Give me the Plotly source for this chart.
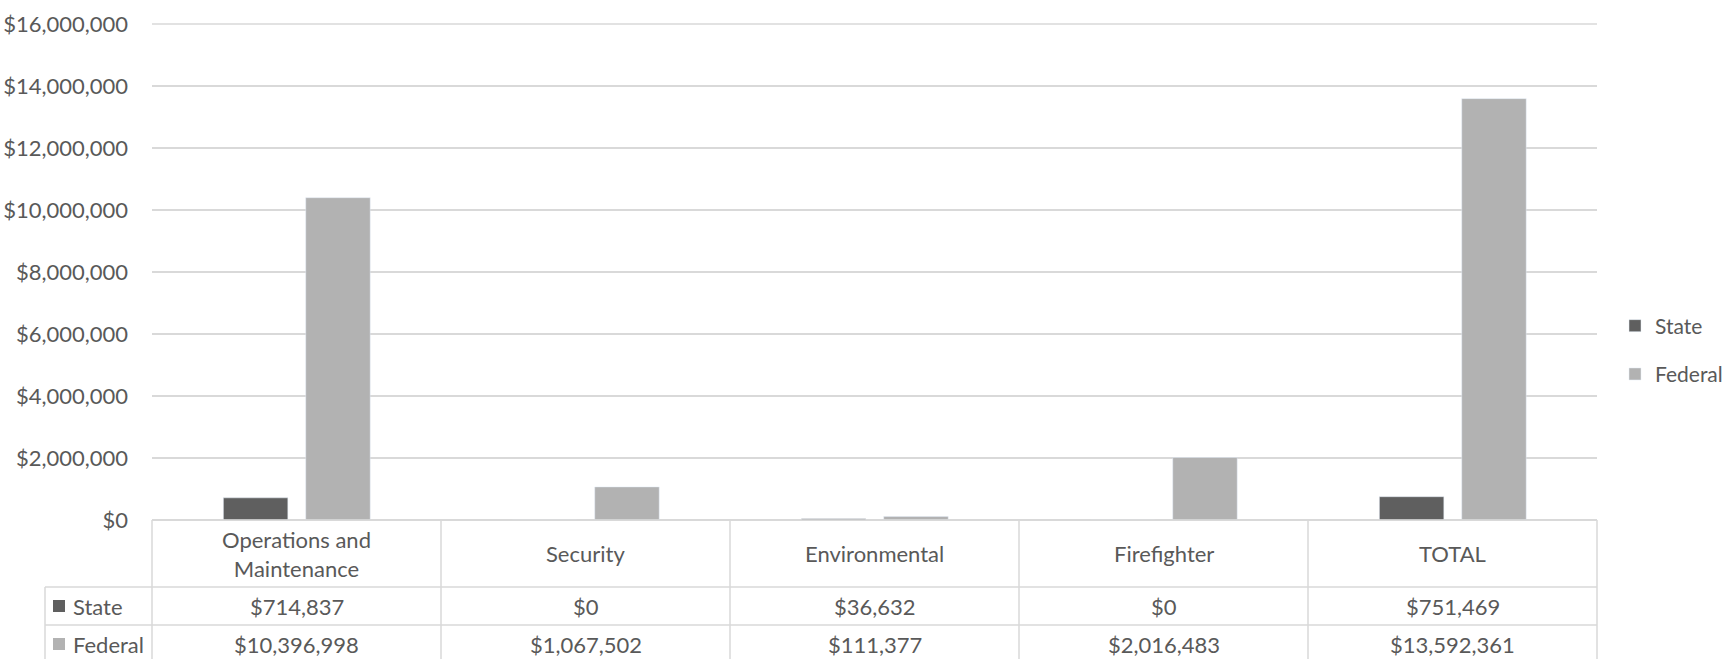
import plotly.graph_objects as go

# dados
categorias = ['Operations and Maintenance', 'Security', 'Environmental', 'Firefighter', 'TOTAL']
rotulos_categoria = ['Operations and<br>Maintenance', 'Security', 'Environmental', 'Firefighter', 'TOTAL']
valores_state = [714837, 0, 36632, 0, 751469]
valores_federal = [10396998, 1067502, 111377, 2016483, 13592361]
series = ['State', 'Federal']
cores = ['#5f5f5f', '#b2b2b2']

texto = '#595959'
grade = '#d9d9d9'
fonte = 'Lato'
tam = 22

# geometria em pixels (janela 1732x659)
L, R, T, B = 152, 1597, 24, 520
W, H = R - L, B - T


def py(p):
    # pixel vertical -> coordenada paper
    return (B - p) / H


def pxx(p):
    return (p - L) / W


fig = go.Figure()
fig.add_trace(go.Bar(
    x=categorias, y=valores_state, name='State',
    marker_color=cores[0], width=0.223, offset=-0.253,
    legendgroup='s'
))
fig.add_trace(go.Bar(
    x=categorias, y=valores_federal, name='Federal',
    marker_color=cores[1], width=0.223, offset=0.032,
    legendgroup='f'
))

shapes = []
linha = dict(color=grade, width=1.5)
# linha do topo (16M) e linhas horizontais da tabela
shapes.append(dict(type='line', xref='paper', yref='paper', x0=0, x1=1, y0=1, y1=1, line=linha))
shapes.append(dict(type='line', xref='paper', yref='paper', x0=0, x1=1, y0=0, y1=0, line=linha))
for yp in (587, 625):
    shapes.append(dict(type='line', xref='paper', yref='paper', x0=pxx(45), x1=1, y0=py(yp), y1=py(yp), line=linha))
# divisoes das colunas
n = len(categorias)
for k in range(n + 1):
    shapes.append(dict(type='line', xref='paper', yref='paper', x0=k / n, x1=k / n, y0=0, y1=py(680), line=linha))
shapes.append(dict(type='line', xref='paper', yref='paper', x0=pxx(45), x1=pxx(45), y0=py(587), y1=py(680), line=linha))

annotations = []
for cat, rot in zip(categorias, rotulos_categoria):
    annotations.append(dict(x=cat, y=py(553.5), xref='x', yref='paper', text=rot, showarrow=False,
                            font=dict(size=tam, color=texto), xanchor='center', yanchor='middle'))

linhas_y = [606, 644]
for nome, cor, vals, yp in zip(series, cores, [valores_state, valores_federal], linhas_y):
    shapes.append(dict(type='rect', xref='paper', yref='paper', x0=pxx(53), x1=pxx(65),
                       y0=py(yp - 6), y1=py(yp + 6), fillcolor=cor, line=dict(width=0)))
    annotations.append(dict(x=pxx(71), y=py(yp), xref='paper', yref='paper', text=nome, showarrow=False,
                            font=dict(size=tam, color=texto), xanchor='left', yanchor='middle'))
    for cat, v in zip(categorias, vals):
        annotations.append(dict(x=cat, y=py(yp), xref='x', yref='paper', text=f'${v:,.0f}', showarrow=False,
                                font=dict(size=tam, color=texto), xanchor='center', yanchor='middle'))

fig.update_layout(
    width=1732, height=659,
    plot_bgcolor='white',
    paper_bgcolor='white',
    font=dict(family=fonte, color=texto, size=tam),
    margin=dict(l=L, r=1732 - R, t=T, b=659 - B, pad=0, autoexpand=False),
    barmode='overlay',
    showlegend=True,
    legend=dict(x=pxx(1615), xanchor='left', y=py(350), yanchor='middle',
                traceorder='grouped', tracegroupgap=18, font=dict(size=21, color=texto),
                bgcolor='rgba(0,0,0,0)'),
    shapes=shapes,
    annotations=annotations,
)
fig.update_xaxes(showticklabels=False, showgrid=False, zeroline=False, showline=False,
                 range=[-0.5, n - 0.5], fixedrange=True, automargin=False)
fig.update_yaxes(range=[0, 16000000], dtick=2000000, tickprefix='$', tickformat=',.0f',
                 showgrid=True, gridcolor=grade, gridwidth=1.5, zeroline=True, zerolinecolor=grade,
                 zerolinewidth=1.5, showline=False, ticks='', ticklabelstandoff=23, automargin=False,
                 tickfont=dict(size=tam, color=texto))

fig.write_html('out.html', config={'displayModeBar': False},
               post_script="document.body.style.margin='0';")
